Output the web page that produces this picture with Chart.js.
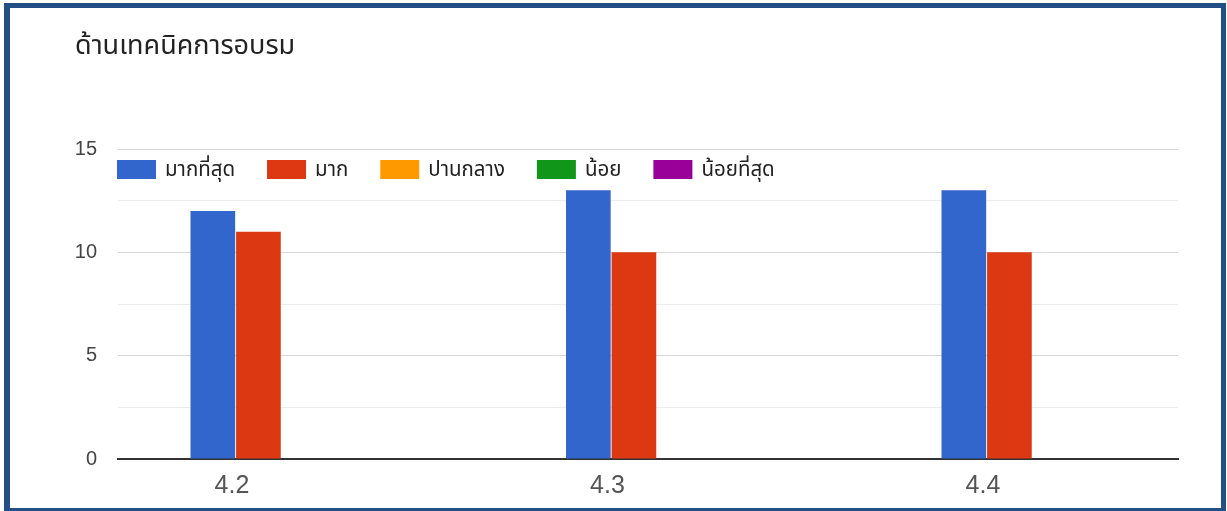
<!DOCTYPE html>
<html>
<head>
<meta charset="utf-8">
<script src="https://cdn.jsdelivr.net/npm/chart.js@4.4.1/dist/chart.umd.min.js"></script>
<style>
    html, body { margin: 0; padding: 0; background: #fff; }
    #frame {
        position: absolute; left: 4px; top: 3px;
        width: 1211px; height: 500px;
        border: 5px solid #234f87; border-left-width: 6px; border-bottom-width: 3px;
        background: #fff;
    }
    #wrap { position: absolute; left: 0; top: 0; width: 1211px; height: 500px; }
</style>
</head>
<body>
<div id="frame"><div id="wrap"><canvas id="chart"></canvas></div></div>
<script>
/* ---------- data ---------- */
const chartTitle = 'ด้านเทคนิคการอบรม';
const categories = ['4.2', '4.3', '4.4'];
const seriesNames = ['มากที่สุด', 'มาก', 'ปานกลาง', 'น้อย', 'น้อยที่สุด'];
const mostValues = [12, 13, 13];
const muchValues = [11, 10, 10];
const mediumValues = [0, 0, 0];
const lowValues = [0, 0, 0];
const lowestValues = [0, 0, 0];
const seriesColors = ['#3366cc', '#dc3912', '#ff9900', '#109618', '#990099'];
const yMax = 15;
const yStep = 2.5;

const THAI_FONT = "'Noto Sans', 'Noto Sans Thai', Tahoma, sans-serif";
const NUM_FONT = "'Liberation Sans', Arial, sans-serif";

/* ---------- legend drawn inside the plot area ---------- */
const insideLegend = {
    id: 'insideLegend',
    afterDatasetsDraw(chart) {
        const { ctx, chartArea } = chart;
        const boxW = 39, boxH = 19, gap = 9, spacing = 32;
        let x = chartArea.left - 1;
        const top = chartArea.top + 11;
        ctx.save();
        ctx.font = '20.5px ' + THAI_FONT;
        ctx.textBaseline = 'middle';
        ctx.textAlign = 'left';
        chart.data.datasets.forEach(ds => {
            ctx.fillStyle = ds.backgroundColor;
            ctx.fillRect(x, top, boxW, boxH);
            ctx.fillStyle = '#222';
            ctx.fillText(ds.label, x + boxW + gap, top + boxH / 2 + 1);
            x += boxW + gap + ctx.measureText(ds.label).width + spacing;
        });
        ctx.restore();
    }
};

const seriesValues = [mostValues, muchValues, mediumValues, lowValues, lowestValues];
const datasets = seriesNames.map((name, i) => ({
    label: name,
    data: categories.map((c, j) => ({ x: Number(c), y: seriesValues[i][j] })),
    backgroundColor: seriesColors[i],
    borderWidth: 0,
    barPercentage: 0.98,
    categoryPercentage: 0.607
}));

// x scale range chosen so each group is 375.5px wide and starts where the plot does
const catNums = categories.map(Number);
const unit = catNums[1] - catNums[0];
const xMin = catNums[0] - unit * 186 / 375.5;
const xMax = xMin + unit * 1060 / 375.5;

new Chart(document.getElementById('chart'), {
    type: 'bar',
    data: { datasets },
    plugins: [insideLegend],
    options: {
        responsive: true,
        maintainAspectRatio: false,
        animation: false,
        layout: { padding: { left: 65, right: 43, top: 0, bottom: 0 } },
        plugins: {
            legend: { display: false },
            tooltip: { enabled: false },
            title: {
                display: true,
                text: chartTitle,
                align: 'start',
                color: '#222',
                font: { family: THAI_FONT, size: 27, weight: 'normal', lineHeight: 1.2 },
                padding: { top: 22, bottom: 86.6 }
            }
        },
        scales: {
            x: {
                type: 'linear',
                min: xMin,
                max: xMax,
                offset: false,
                afterBuildTicks: scale => { scale.ticks = catNums.map(v => ({ value: v })); },
                afterFit: scale => { scale.height = 49; },
                grid: { display: false, drawTicks: false },
                border: { display: true, color: '#333', width: 2 },
                ticks: {
                    color: '#555',
                    font: { family: NUM_FONT, size: 25 },
                    padding: 12,
                    labelOffset: -72,
                    maxRotation: 0,
                    autoSkip: false,
                    callback: v => categories[catNums.findIndex(c => Math.abs(c - v) < 1e-6)]
                }
            },
            y: {
                min: 0,
                max: yMax,
                afterFit: scale => { scale.width = 43; },
                grid: {
                    drawTicks: false,
                    color: c => c.tick.value === 0 ? 'rgba(0,0,0,0)' : (c.tick.value % 5 === 0 ? '#d6d6d6' : '#ececec'),
                    lineWidth: 1
                },
                border: { display: false },
                ticks: {
                    stepSize: yStep,
                    color: '#444',
                    font: { family: NUM_FONT, size: 20 },
                    padding: 21,
                    callback: v => (v % 5 === 0 ? String(v) : '')
                }
            }
        }
    }
});
</script>
</body>
</html>
